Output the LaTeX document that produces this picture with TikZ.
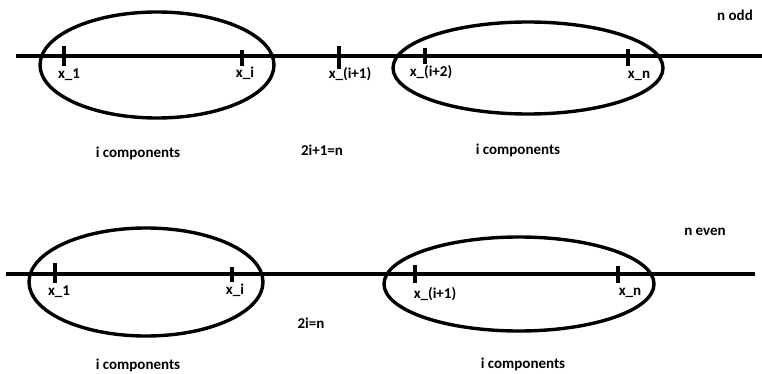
\documentclass[tikz,border=0pt]{standalone}
\usepackage{fontspec}
\setmainfont{Carlito}
\usepackage{tikz}
\usetikzlibrary{positioning,calc}

\begin{document}
\begin{tikzpicture}[
    x=1pt, y=-1pt,
    axis/.style={line width=3.6pt},
    ring/.style={line width=3.4pt},
    tick/.style={line width=3.4pt},
    lbl/.style={font=\fontsize{15}{17}\selectfont\bfseries, inner sep=0pt}
]
\useasboundingbox (0,0) rectangle (762,374);

% n odd
\coordinate (oddL) at (16,56);
\coordinate (oddR) at (762,56);
\draw[axis] (oddL) -- (oddR);
\draw[ring] (157,65) ellipse [x radius=117, y radius=53];
\draw[ring] (528,68) ellipse [x radius=135, y radius=46];

\foreach \x/\a/\b in {64/46/66, 242/50/66, 339/46/69, 425/48/64, 628/49/66}
    \draw[tick] (\x,\a) -- (\x,\b);

\node[lbl] (o1)  at (69,75)  {x\_1};
\node[lbl] (oi)  at (245,73) {x\_i};
\node[lbl] (oi1) at (350,74) {x\_(i+1)};
\node[lbl] (oi2) at (431,72) {x\_(i+2)};
\node[lbl] (on)  at (639,76) {x\_n};
\node[lbl] (odd) at (735,15) {n odd};
\node[lbl] (oc1) at (138,153) {i components};
\node[lbl] (oeq) at (322,150) {2i+1=n};
\node[lbl] (oc2) at (518,150) {i components};

% n even
\coordinate (evenL) at (6,274);
\coordinate (evenR) at (755,274);
\draw[axis] (evenL) -- (evenR);
\draw[ring] (146,282) ellipse [x radius=117, y radius=54];
\draw[ring] (519,284) ellipse [x radius=135, y radius=47];

\foreach \x/\a/\b in {55/263/283, 232/267/282, 415/265/283, 618/266/283}
    \draw[tick] (\x,\a) -- (\x,\b);

\node[lbl] (e1)  at (59,292)  {x\_1};
\node[lbl] (ei)  at (235,290) {x\_i};
\node[lbl] (ei1) at (435,294) {x\_(i+1)};
\node[lbl] (en)  at (630,293) {x\_n};
\node[lbl] (even) at (705,232) {n even};
\node[lbl] (eeq) at (311,323) {2i=n};
\node[lbl] (ec1) at (138,365) {i components};
\node[lbl] (ec2) at (523,364) {i components};

\end{tikzpicture}
\end{document}
